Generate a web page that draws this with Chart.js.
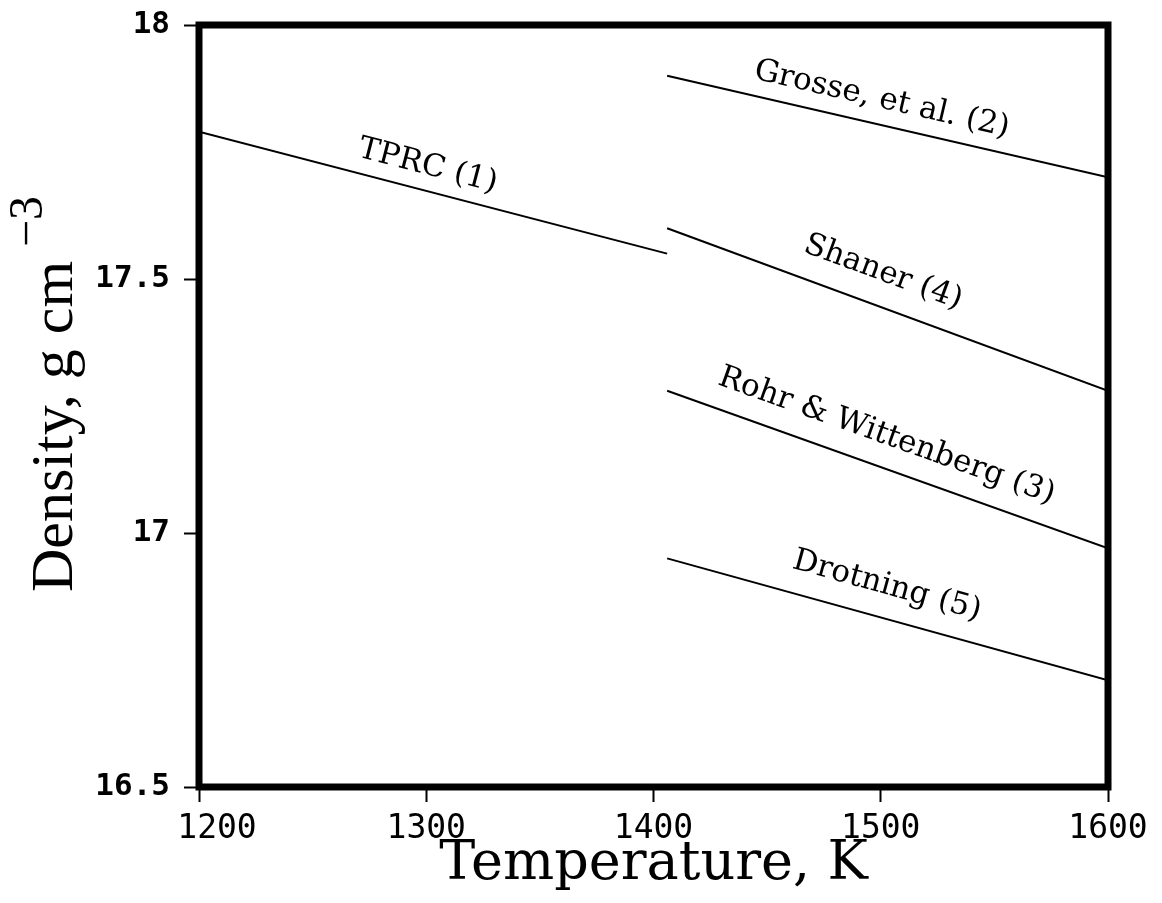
<!DOCTYPE html>
<html>
<head>
<meta charset="utf-8">
<title>Density of liquid uranium</title>
<script src="https://cdn.jsdelivr.net/npm/chart.js@4.4.1/dist/chart.umd.min.js"></script>
<style>
  html, body { margin: 0; padding: 0; background: #fff; }
  #wrap { width: 1162px; height: 903px; }
</style>
</head>
<body>
<div id="wrap"><canvas id="c" width="1162" height="903"></canvas></div>
<script>
// Density correlations for the liquid, one straight segment per source
const seriesNames = ['TPRC (1)', 'Grosse, et al. (2)', 'Shaner (4)', 'Rohr & Wittenberg (3)', 'Drotning (5)'];
const tStart   = [1200, 1406, 1406, 1406, 1406];      // K
const tEnd     = [1406, 1600, 1600, 1600, 1600];      // K
const rhoStart = [17.79, 17.90, 17.60, 17.28, 16.95]; // g cm^-3
const rhoEnd   = [17.55, 17.70, 17.28, 16.97, 16.71]; // g cm^-3

// Axis ticks
const xTicks = [1200, 1300, 1400, 1500, 1600];
const yTicks = [16.5, 17, 17.5, 18];

const datasets = seriesNames.map((name, i) => ({
  label: name,
  data: [{x: tStart[i], y: rhoStart[i]}, {x: tEnd[i], y: rhoEnd[i]}],
  borderColor: '#000',
  borderWidth: 2,
  pointRadius: 0,
  fill: false,
  tension: 0
}));

// Text set along each segment
const lineLabels = {
  id: 'lineLabels',
  afterDatasetsDraw(chart, args, opts) {
    const {ctx, scales: {x, y}} = chart;
    ctx.save();
    ctx.fillStyle = '#000';
    ctx.font = opts.font;
    ctx.textAlign = 'center';
    ctx.textBaseline = 'alphabetic';
    seriesNames.forEach((name, i) => {
      const x1 = x.getPixelForValue(tStart[i]), y1 = y.getPixelForValue(rhoStart[i]);
      const x2 = x.getPixelForValue(tEnd[i]),   y2 = y.getPixelForValue(rhoEnd[i]);
      const ang = Math.atan2(y2 - y1, x2 - x1);
      const px = x.getPixelForValue(opts.at[i]);
      const py = y1 + (px - x1) * (y2 - y1) / (x2 - x1);
      ctx.save();
      ctx.translate(px, py);
      ctx.rotate(ang);
      ctx.fillText(name, 0, -opts.gap[i]);
      ctx.restore();
    });
    ctx.restore();
  }
};

// Heavy box round the plotting area
const frame = {
  id: 'frame',
  afterDraw(chart, args, opts) {
    const {ctx, chartArea: a} = chart;
    ctx.save();
    ctx.strokeStyle = '#000';
    ctx.lineWidth = opts.width;
    ctx.strokeRect(a.left, a.top, a.right - a.left, a.bottom - a.top);
    ctx.restore();
  }
};

// Vertical axis title with raised exponent
const yTitle = {
  id: 'yTitle',
  afterDraw(chart, args, opts) {
    const {ctx} = chart;
    ctx.save();
    ctx.fillStyle = '#000';
    ctx.translate(opts.x, opts.y);
    ctx.rotate(-Math.PI / 2);
    ctx.textAlign = 'left';
    ctx.textBaseline = 'alphabetic';
    ctx.font = opts.font;
    ctx.fillText('Density, g cm', 0, 0);
    const w = ctx.measureText('Density, g cm').width;
    ctx.font = opts.supFont;
    ctx.fillText('\u22123', w + opts.gap, -opts.raise);
    ctx.restore();
  }
};

// Nudge the first temperature label clear of the corner
const shiftFirstLabel = {
  id: 'shiftFirstLabel',
  beforeDraw(chart, args, opts) {
    const sx = chart.scales.x;
    const items = sx.getLabelItems(chart.chartArea);
    if (items.length && !items[0]._shifted) {
      items[0].options.translation[0] += opts.dx;
      items[0]._shifted = true;
    }
  }
};

new Chart(document.getElementById('c'), {
  type: 'line',
  data: { datasets },
  plugins: [shiftFirstLabel, lineLabels, frame, yTitle],
  options: {
    responsive: false,
    animation: false,
    devicePixelRatio: 1,
    layout: { padding: { top: 25, right: 54, left: 0, bottom: 0 } },
    plugins: {
      legend: { display: false },
      tooltip: { enabled: false },
      lineLabels: { font: '31px "DejaVu Serif"', gap: [16, 17, 25, 23, 24], at: [1298, 1498, 1496, 1498, 1499] },
      frame: { width: 7 },
      yTitle: { x: 72, y: 592, font: '60px "Liberation Serif"', supFont: '48px "Liberation Serif"', raise: 30, gap: 14 },
      shiftFirstLabel: { dx: 18 }
    },
    scales: {
      x: {
        type: 'linear',
        min: 1200,
        max: 1600,
        afterBuildTicks: s => { s.ticks = xTicks.map(v => ({value: v})); },
        afterFit: s => { s.height = 116; s.paddingLeft = 0; s.paddingRight = 0; },
        border: { display: false },
        grid: { drawOnChartArea: false, drawTicks: true, tickLength: 15, tickWidth: 2, tickColor: '#000' },
        ticks: { color: '#000', font: { family: 'DejaVu Sans Mono', size: 33 }, padding: 8, maxRotation: 0, callback: v => String(v) },
        title: { display: true, text: 'Temperature, K', color: '#000', font: { family: 'DejaVu Serif', size: 54, lineHeight: 1.1 }, padding: { top: 0, bottom: 8 } }
      },
      y: {
        type: 'linear',
        min: 16.5,
        max: 18,
        afterBuildTicks: s => { s.ticks = yTicks.map(v => ({value: v})); },
        afterFit: s => { s.width = 199; s.paddingTop = 0; s.paddingBottom = 0; },
        border: { display: false },
        grid: { drawOnChartArea: false, drawTicks: true, tickLength: 15, tickWidth: 2, tickColor: '#000' },
        ticks: { color: '#000', font: { family: 'DejaVu Sans Mono', size: 31, weight: 'bold' }, padding: 14, callback: v => String(v) }
      }
    }
  }
});
</script>
</body>
</html>
